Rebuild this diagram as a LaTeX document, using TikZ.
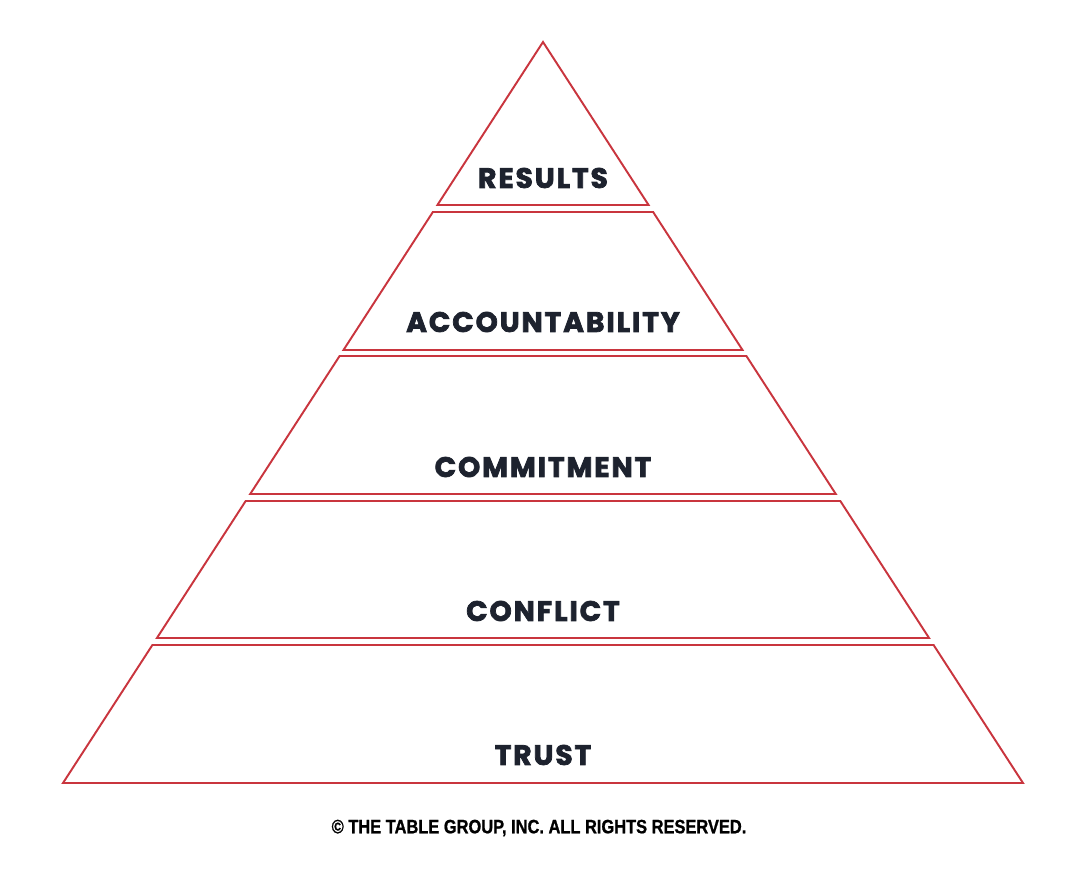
\documentclass[tikz,border=0pt]{standalone}
\usepackage{fontspec}
\usepackage{tikz}
\usetikzlibrary{calc}
\newfontfamily\tierfont{Poppins}[LetterSpace=7,FakeBold=2.6]
\newfontfamily\notefont{Liberation Sans}[FakeStretch=0.85,FakeBold=1]
\definecolor{pyrred}{HTML}{C9353E}
\definecolor{pyrink}{HTML}{1D222E}
\tikzset{
  layer/.style={
    draw=pyrred,
    line width=1.1pt,
    fill=white
  },
  tier/.style={
    text=pyrink,
    font=\tierfont\bfseries\fontsize{16}{18}\selectfont,
    inner sep=0pt
  },
  note/.style={
    text=black,
    font=\notefont\bfseries\fontsize{11}{12}\selectfont,
    inner sep=0pt
  }
}
\begin{document}
\begin{tikzpicture}[x=0.02cm,y=-0.02cm]
\useasboundingbox (0,0) rectangle (1080,883);
% slices of one triangle, apex (543,42), base 63--1023 at y=783
\foreach \ya/\yb in {42/205,212/350,356/494,501/638,645/783}{
  \pgfmathsetmacro\wt{0.64777*(\ya-42)}
  \pgfmathsetmacro\wb{0.64777*(\yb-42)}
  \draw[layer] (543-\wt,\ya) -- (543+\wt,\ya)
    -- (543+\wb,\yb) -- (543-\wb,\yb) -- cycle;
}
\node[tier] (results) at (543,178) {RESULTS};
\node[tier] (accountability) at (543,322) {ACCOUNTABILITY};
\node[tier] (commitment) at (543,467) {COMMITMENT};
\node[tier] (conflict) at (543,611) {CONFLICT};
\node[tier] (trust) at (543,755) {TRUST};
\node[note] (rights) at (539,828) {\textcopyright{} THE TABLE GROUP, INC. ALL RIGHTS RESERVED.};
\end{tikzpicture}
\end{document}
